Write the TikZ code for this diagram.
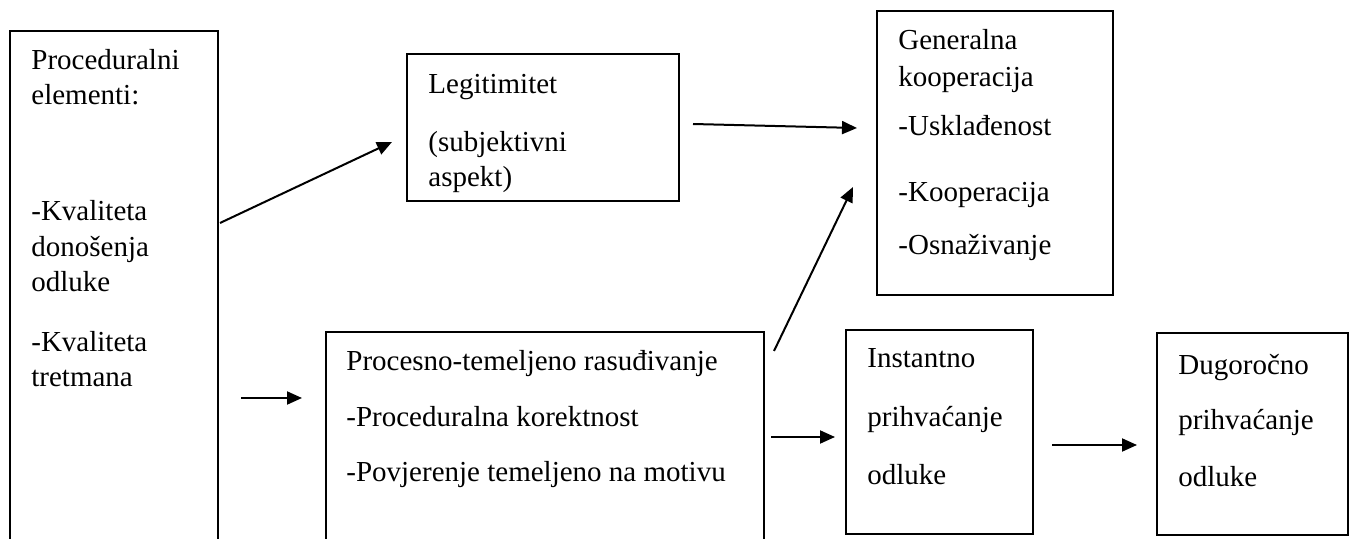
\documentclass[tikz,border=0pt]{standalone}
\usepackage{fontspec}
\setmainfont{Liberation Serif}
\usetikzlibrary{arrows.meta,calc,fit}
\begin{document}
\begin{tikzpicture}[x=0.5pt,y=-0.5pt,
  box/.style={draw=black,line width=1pt,inner sep=0pt,fill=none},
  txt/.style={anchor=base west,inner sep=0pt,font=\fontsize{14.5}{17}\selectfont},
  arr/.style={line width=1pt,-{Triangle[length=7.5pt,width=6.5pt]}}]
\useasboundingbox (0,0) rectangle (1350,539);
\clip (0,0) rectangle (1350,539);
\fill[white] (0,0) rectangle (1350,539);
% box corners
\coordinate (pe1) at (10,31);   \coordinate (pe2) at (218,560);
\coordinate (lg1) at (407,54);  \coordinate (lg2) at (679,201);
\coordinate (gc1) at (877,11);  \coordinate (gc2) at (1113,295);
\coordinate (pr1) at (326,332); \coordinate (pr2) at (764,560);
\coordinate (in1) at (846,330); \coordinate (in2) at (1033,534);
\coordinate (dg1) at (1157,333);\coordinate (dg2) at (1348,535);
\node[box,fit=(pe1)(pe2)] (pe) {};
\node[box,fit=(lg1)(lg2)] (lg) {};
\node[box,fit=(gc1)(gc2)] (gc) {};
\node[box,fit=(pr1)(pr2)] (pr) {};
\node[box,fit=(in1)(in2)] (in) {};
\node[box,fit=(dg1)(dg2)] (dg) {};
% texts
\node[txt] (pe-t1) at (31,70) {Proceduralni};
\node[txt] (pe-t2) at (31,105) {elementi:};
\node[txt] (pe-t3) at (31,221) {-Kvaliteta};
\node[txt] (pe-t4) at (31,257) {donošenja};
\node[txt] (pe-t5) at (31,292) {odluke};
\node[txt] (pe-t6) at (31,352) {-Kvaliteta};
\node[txt] (pe-t7) at (31,387) {tretmana};
\node[txt] (lg-t1) at (428,94) {Legitimitet};
\node[txt] (lg-t2) at (428,152) {(subjektivni};
\node[txt] (lg-t3) at (428,187) {aspekt)};
\node[txt] (gc-t1) at (898,50) {Generalna};
\node[txt] (gc-t2) at (898,87) {kooperacija};
\node[txt] (gc-t3) at (898,136) {-Usklađenost};
\node[txt] (gc-t4) at (898,202) {-Kooperacija};
\node[txt] (gc-t5) at (898,255) {-Osnaživanje};
\node[txt] (pr-t1) at (346,371) {Procesno-temeljeno rasuđivanje};
\node[txt] (pr-t2) at (346,427) {-Proceduralna korektnost};
\node[txt] (pr-t3) at (346,482) {-Povjerenje temeljeno na motivu};
\node[txt] (in-t1) at (867,368) {Instantno};
\node[txt] (in-t2) at (867,427) {prihvaćanje};
\node[txt] (in-t3) at (867,485) {odluke};
\node[txt] (dg-t1) at (1178,375) {Dugoročno};
\node[txt] (dg-t2) at (1178,430) {prihvaćanje};
\node[txt] (dg-t3) at (1178,487) {odluke};
% arrows
\draw[arr] ($(pe.north east)+(1,193)$) -- ($(lg.west)+(-14,14.5)$);
\draw[arr] ($(lg.east)+(13,-3.5)$) -- ($(gc.west)+(-19,-25)$);
\draw[arr] ($(pr.north east)+(9,20)$) -- ($(gc.south west)+(-23,-109)$);
\draw[arr] ($(pr.north west)+(-84,67)$) -- ($(pr.north west)+(-23,67)$);
\draw[arr] ($(in.west)+(-74,5)$) -- ($(in.west)+(-10,5)$);
\draw[arr] ($(dg.west)+(-104,11)$) -- ($(dg.west)+(-19,11)$);
\end{tikzpicture}
\end{document}
